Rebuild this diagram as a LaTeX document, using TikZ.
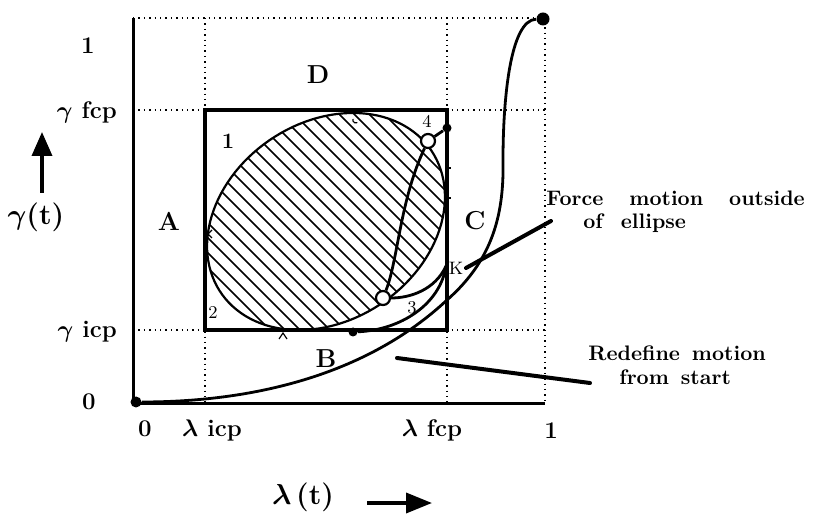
\documentclass[tikz,border=0pt]{standalone}
\usepackage{amsmath}
\usetikzlibrary{
    arrows.meta
}
\tikzset{
    >=Stealth,
    gridline/.style={dotted, line width=0.7pt},
    boxline/.style={line width=2pt},
    axisline/.style={line width=1.5pt},
    motion/.style={line width=1.4pt},
    pointer/.style={line width=2pt, line cap=round},
    hatchline/.style={line width=0.8pt},
    dotmark/.style={circle, fill, inner sep=0pt, minimum size=4.5pt},
    ring/.style={circle, draw, fill=white, line width=1.1pt, inner sep=0pt, minimum size=7pt},
    ticklabel/.style={font=\fontsize{12}{14}\selectfont\bfseries\boldmath},
    regionlabel/.style={font=\fontsize{13}{15}\selectfont\bfseries},
    cornerlabel/.style={font=\small},
    note/.style={font=\fontsize{10.5}{12}\selectfont\bfseries, anchor=west, inner sep=0pt}
}
% rotated ellipse (obstacle), pixel units
\newcommand{\ellx}[1]{326+127*cos(#1)*cos(34)-99*sin(#1)*sin(34)}
\newcommand{\elly}[1]{221.5-127*cos(#1)*sin(34)-99*sin(#1)*cos(34)}

\begin{document}
\begin{tikzpicture}[
    x=0.5pt,
    y=-0.5pt
]
    \useasboundingbox (0,0) rectangle (818,517);

    % Rejilla punteada
    \draw[gridline] (133,18) -- (545,18) -- (545,404);
    \draw[gridline] (205,18) -- (205,404);
    \draw[gridline] (447,18) -- (447,404);
    \draw[gridline] (133,110) -- (545,110);
    \draw[gridline] (133,330) -- (545,330);

    % Ejes
    \draw[axisline] (133,18) -- (133,404) -- (545,404);

    % Elipse rayada
    \begin{scope}
        \clip plot[domain=0:360, samples=120] ({\ellx{\x}},{\elly{\x}}) -- cycle;
        \foreach \c in {-135,-120,...,345}
            \draw[hatchline] ({\c+90},90) -- ({\c+350},350);
    \end{scope}
    \draw[line width=1.1pt] plot[domain=0:360, samples=120] ({\ellx{\x}},{\elly{\x}}) -- cycle;

    % Caja
    \draw[boxline] (205,110) rectangle (447,330);

    % marcas de tangencia
    \draw[line width=0.6pt] (279,339) -- (283,333) -- (287,339);
    \draw[line width=0.6pt] (353,119) arc[start angle=200, end angle=60, radius=3];
    \draw[line width=0.6pt] (212,230) -- (208,234) -- (212,238);
    \draw[line width=0.6pt] (447,168) -- (451,168);
    \draw[line width=0.6pt] (447,198) -- (451,198);

    % Puntos
    \node[dotmark, minimum size=5.5pt] (orig)     at (136,402) {};
    \node[dotmark, minimum size=6.5pt] (goal)     at (543,19)  {};
    \node[dotmark]                     (startdot) at (353,332) {};
    \node[dotmark]                     (topdot)   at (447,128) {};
    \node[ring]                        (lowring)  at (383,298) {};
    \node[ring]                        (upring)   at (428,141) {};
    \coordinate (kpt) at (446,266);

    % Trayectorias
    \draw[motion] (orig)
        .. controls (260,402) and (370,372) .. (447,300)
        .. controls (495,258) and (504,210) .. (503,160)
        .. controls (503,100) and (510,20) .. (goal);
    \draw[motion] (lowring) .. controls (398,260) and (400,200) .. (upring);
    \draw[motion] (upring) -- (topdot);
    \draw[motion] (lowring) .. controls (410,298) and (435,290) .. (kpt);
    \draw[motion] (startdot) .. controls (400,330) and (440,305) .. (kpt);

    % Etiquetas de regiones
    \node[regionlabel] (regA) at (169,221) {A};
    \node[regionlabel] (regB) at (326,359) {B};
    \node[regionlabel] (regC) at (475,221) {C};
    \node[regionlabel] (regD) at (318,75)  {D};

    \node[font=\fontsize{11}{13}\selectfont\bfseries] (lab1) at (228,141) {1};
    \node[cornerlabel] (lab2) at (213,313) {2};
    \node[cornerlabel] (lab3) at (412,308) {3};
    \node[cornerlabel] (lab4) at (427,121) {4};
    \node[cornerlabel] (labK) at (456,268) {K};

    % Eje vertical
    \node[ticklabel] (yone)  at (88,46)   {1};
    \node[ticklabel, anchor=east] (yfcp) at (124,112) {$\gamma$ fcp};
    \node[ticklabel, anchor=east] (yicp) at (124,332) {$\gamma$ icp};
    \node[ticklabel] (yzero) at (89,402)  {0};
    \node[font=\Large\bfseries\boldmath] (ylab) at (36,217) {$\gamma$(t)};
    \coordinate (yarrowfoot) at (42,193);
    \coordinate (yarrowtip)  at (42,132);
    \draw[line width=1.8pt, -{Triangle[length=12pt, width=10pt]}] (yarrowfoot) -- (yarrowtip);

    % Eje horizontal
    \node[ticklabel] (xzero) at (145,429) {0};
    \node[ticklabel] (xicp)  at (212,430) {$\lambda$ icp};
    \node[ticklabel] (xfcp)  at (432,430) {$\lambda$ fcp};
    \node[ticklabel] (xone)  at (551,431) {1};
    \node[font=\Large\bfseries\boldmath] (xlab) at (303,497) {$\lambda$\,(t)};
    \coordinate (xarrowfoot) at (367,503);
    \coordinate (xarrowtip)  at (432,503);
    \draw[line width=1.8pt, -{Triangle[length=13pt, width=10pt]}] (xarrowfoot) -- (xarrowtip);

    % Notas
    \node[note] (force1) at (546,198) {\spaceskip=13pt Force motion outside};
    \node[note] (force2) at (583,223) {\spaceskip=9pt of ellipse};
    \node[note] (redef1) at (588,353) {\spaceskip=6pt Redefine motion};
    \node[note] (redef2) at (619,377) {\spaceskip=6pt from start};

    \coordinate (forcetail) at (551,221);
    \coordinate (forcehead) at (466,268);
    \draw[pointer] (forcetail) -- (forcehead);
    \coordinate (redeftail) at (590,383);
    \coordinate (redefhead) at (397,358);
    \draw[pointer] (redeftail) -- (redefhead);

\end{tikzpicture}
\end{document}
